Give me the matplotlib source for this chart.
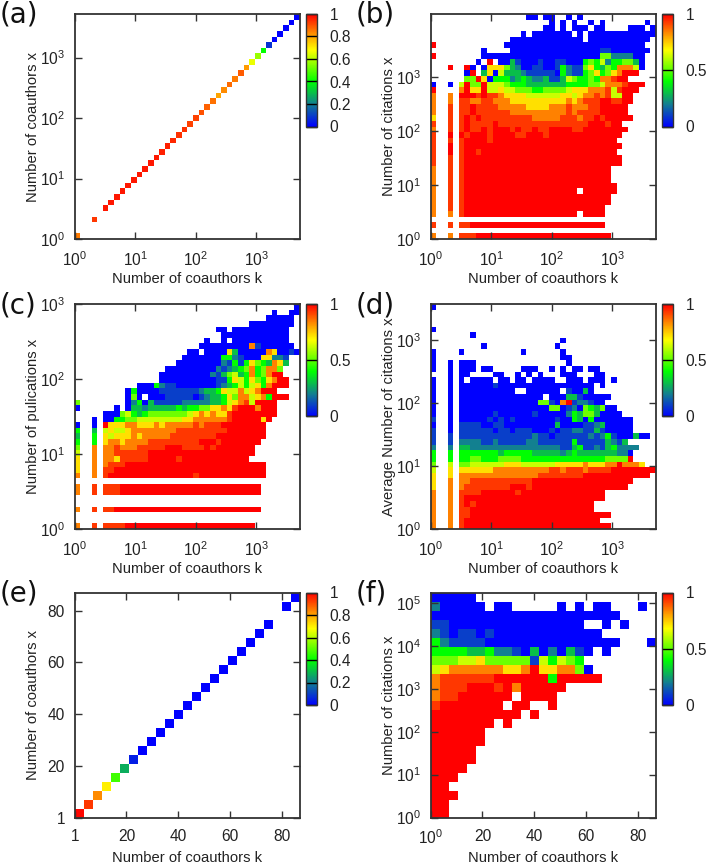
import numpy as np
import matplotlib
matplotlib.use("Agg")
import matplotlib.pyplot as plt
from matplotlib.colors import LinearSegmentedColormap
from matplotlib.ticker import FixedLocator, FixedFormatter, NullLocator

plt.rcParams['font.family'] = ['Liberation Sans', 'DejaVu Sans']
plt.rcParams['mathtext.default'] = 'regular'
INK = '#333333'

# Diagonal panels: None = empty cell
diag_a = [.85, None, None, .93, None, .97, .97, .97, .97, .97, .97, .97, .97, .97, .97, .96, .96, .95, .94, .94,
          .92, .92, .90, .88, .86, .80, .83, .87, .85, .89, .81, .66, .57, .40, .08, 0, 0, 0, 0, 0]
diag_e = [.99, .93, .83, .70, .47, .27, .05, 0, 0, 0, 0, 0, 0, 0, 0, 0, 0, 0, 0, 0, 0, 0, None, 0, 0]

# Shade of each cell code: 0-9, R = reddest
SHADES = {'0': 0, '1': .1, '2': .2, '3': .3, '4': .4, '5': .52, '6': .62, '7': .72, '8': .84, '9': .93, 'R': 1}

# Cell values, top row first: . = empty
grid_b = [
".................00.00..0.0",
".....................0.0.0..0.0.......0",
"....................00.0.000.00....000.0",
"................0.0000000.0.000000000000",
"..............0000000000000.00000000000",
"R............0000000000000000000000000",
".........0....0000000000000000110000000",
"R........00000000000000000000055222200",
"........0.R.00310001001100045462445530",
"...R..R0.07775320011001421157435488860",
"......0R.37063332111110421145745 78RRR",
"......55R70444234322311365445488 9RR",
"0..0.6R55R6665444333333344445568889RRR",
"R....8R77R667665554455556777888969RRR",
"8..8.RRR9R998777766666677678898966RR",
"8..8.9988998887777777777878999RR99RR",
"8..9.99R9999888887777888988899RRRRR",
"8..9.99R9999998888888888989999RRRRR",
"7..9.9R9R99999999988888999899R9RRRRR",
"9..9.9R9999R9999999999999999RRR9RR",
"8..9.9R99R9RRR9R99R99RRRR99RRRRRRRR",
"9..R.R9RRR9RRRR99RRR9RRRRRRRRRRRRR",
"9..9.9RRRR9RRRRRRRRRRRRRRRRRRRRRR",
"9..R.9RRRRRRRRRRRRRRRRRRRRRRRRRRRR",
"9..R.9RR9RRRRRRRRRRRRRRRRRRRRRRRR",
"9..9.9RRRRRRRRRRRRRRRRRRRRRRRRRRRR",
"9..9.9RRRRRRRRRRRRRRRRRRRRRRRRRRRR",
"8..9.9RRRRRRRRRRRRRRRRRRRRRRRRRR",
"8..9.9RRRRRRRRRRRRRRRRRRRRRRRRRR",
"8..9.9RRRRRRRRRRRRRRRRRRRRRRRRRR",
"8..9.9RRRRRRRRRRRRRRRRRRRRRRRRRRR",
"8..9.9RRRRRRRRRRRRRRRRRRRR.RRRRRR",
"8..9.9RRRRRRRRRRRRRRRRRRRRRRRRRR",
"8..9.9RRRRRRRRRRRRRRRRRRRRRRRRRR",
"8..9.9RRRRRRRRRRRRRRRRRRRRRRRRR",
"8..8.9RRRRRRRRRRRRRRRRRRRR.RRRR",
"",
"9..9.99RRRRRRRRRRRRRRRRRRRRRRRR",
"",
"8..8.999RRRRRRRRRRRRRRRRRRRRRRRR",
]

grid_c = [
".......................................0",
"...................................0..00",
"..................................00000",
"...............................00000000",
".........................00.0000000000",
"..........................000000000000",
".......................0..0.0000000000",
"......................00000000081000000",
"....................00.00007300000870010",
"...................000000044210007722 1",
"..................0000000021414754387 3",
"................0000000002123458458 85",
"...............000000000213563484 58RR",
"...............0000000000114764754 78RR",
"...........00042110000000123464674 8RRR",
".........040000111111123347668678RRR",
".........050.000111110123347588678 4RRR",
"5........02403111112222233467896 RRRR",
"0......0.033233333434455778 79RRR8RRR",
".....000564345555555678787 79RRRRRRRR",
"...0.004455666666667788888 89RRRRR7R",
"0..0.R77788777878888898999RRRRRRRR",
"4..3.676678888888899 9999999RRRRRRR",
"3..4.76777878888899 999999RRRRRRRRR",
"4..4.788788889999999 99RRR9RRRRRRR",
"5..8.88988899999RRR9999R9RRRRRRR",
"6..8.889999 99RRRRRRRRRRRRRRRRRRR",
"7..8.88799999RRRRR9RRRRRRRRRRRR",
"7..8.8999RRRRRRRRRRRRRRRRRRRRRRRRR",
"7..8.99RRRRRRRRRRRRRRRRRRRRRRRRRRR",
"8..8.9RRRRRRRRRRRRRRR9RRRRRRRRRRRR",
"",
"8..9.999RRRRRRRRRRRRRRRRRRRRRRRRR",
"8..9.999RRRRRRRRRRRRRRRRRRRRRRRRR",
"",
"",
"8..9.99RRRRRRRRRRRRRRRRRRRRRRRRRR",
"",
"",
"8..9.9999RRRRRRRRRRRRRRRRRRRRRRR",
]

grid_d = [
"0",
"",
"",
"",
"0",
".......0",
".......................0",
".........0............0",
"0....0..........0......0",
"0......................00",
"0..0.000................0",
"0..0.000.00.....000..0.0.00.00",
"...0.00....00..0.0.0...000...00",
"0..0.0.0000.00.00.0000..000.000.0",
"0..0.000000100000000000000000.0",
"0..0.0000000000..000000.10030",
"0..0.000000000000000.00033100000",
"0..0.000000000000005510 8R122100",
"0..0.0000000000000000550120543500",
"0..0.00000010000001000002435530000",
"1..0.0000010101000000010043040000000",
"0..0.1111001100000000030000112300000",
"1..0.1111110110111000101122113100000",
"1..1.1111111111111211011111121241000300",
"1..1.222211211111221111114111113213",
"2..2.3322222222222222221134112134 2222",
"4..4.4444444344444333332343333333220",
"4..4.445544455554444444444444445555R",
"5..6.55666666777666666777778777 88R8887",
"6..7.77777788888888889989998999 9RRRRRRRR",
"7..7.888888888888889999999 9RRRRRRRRRRRR",
"7..8.8899999999999RRRRRRRRRRRRRRRRRR",
"7..8.899999999RRR9RRRRRRRRRRRRRRRRR",
"8..8.9999RRRRRR9RRRRRRRRRRRRRRR",
"8..8.9RRRRRRRRRRRRRRRRRRRRRRRRR",
"8..8.9R9RRRRRRRRRRRRRRRRRRRRR",
"8..8.99RRRRRRRRRRRRRRRRRRRRRR",
"8..8.99RRRRRRRRRRRRRRRRRRRRRRRRR",
"8..8.9RRRRRRRRRRRRRRRRRRRRRRRR",
"8..8.9RRRRRRRRRRRRRRRRRRRRRRRRRR",
]

grid_f = [
"00000",
"200000.00.....0.0.00...0",
"000000000000000000000",
"11000000000000000..0.0",
"2101101000000000000",
"421111000000000000000...0",
"444433422103020310.0",
"55566755555164654",
"678888887 78R778850",
"8999999RRRRRR4RRRRR",
"8999RRR9R8RRRRR",
"899RRRRRR.RRRR",
"9RRRRRRR.RR..R",
"RRRRRRRRRR.R",
"RRRRRRR.R",
"RRRRRR",
"RRRRRR",
"RRRRR",
"RRRRR",
"RRRR",
"RRR",
"RR",
"RRR",
"RR",
"RR",
]

PANELS = ['(a)', '(b)', '(c)', '(d)', '(e)', '(f)']
X_LABELS = ['Number of coauthors k'] * 6
Y_LABELS = ['Number of coauthors x', 'Number of citations x', 'Number of pulications x',
            'Average Number of citations x', 'Number of coauthors x', 'Number of citations x']
CB_TICKS = [[0, .2, .4, .6, .8, 1], [0, .5, 1], [0, .5, 1], [0, .5, 1], [0, .2, .4, .6, .8, 1], [0, .5, 1]]
CB_LABELS = [['0', '0.2', '0.4', '0.6', '0.8', '1'], ['0', '0.5', '1'], ['0', '0.5', '1'], ['0', '0.5', '1'],
             ['0', '0.2', '0.4', '0.6', '0.8', '1'], ['0', '0.5', '1']]
LOG_MAX_K = 5270
Y_MAX = [5270, 14700, 1000, 3700, 87, 178000]
Y_DECADES = [3, 3, 3, 3, 0, 5]

cmap = LinearSegmentedColormap.from_list('pal', [
    (0, '#0000ff'), (.2, '#128090'), (.4, '#00ff00'), (.55, '#88ff00'), (.68, '#ffff00'), (.8, '#ffa500'), (1, '#ff0000')])
cmap.set_bad('white')


def grid(rows, n):
    a = np.full((n, n), np.nan)
    for j, r in enumerate(rows):
        for i, c in enumerate(r.replace(' ', '')[:n]):
            if c != '.':
                a[n - 1 - j, i] = SHADES[c]
    return a


def diagonal(vals):
    n = len(vals)
    a = np.full((n, n), np.nan)
    for i, v in enumerate(vals):
        if v is not None:
            a[i, i] = v
    return a


data = [diagonal(diag_a), grid(grid_b, 40), grid(grid_c, 40), grid(grid_d, 40), diagonal(diag_e), grid(grid_f, 25)]
W, H = 708, 864
fig = plt.figure(figsize=(W / 100, H / 100), dpi=100)
lefts = [74.7, 430.7]
tops = [14, 304, 592.5]
AW, AH = 225.3, 225
FS = 10.6
for p in range(6):
    col, row = p % 2, p // 2
    l, t = lefts[col], tops[row]
    ax = fig.add_axes([l / W, 1 - (t + AH) / H, AW / W, AH / H])
    d = data[p]
    n = d.shape[0]
    linx = p in (4, 5)
    liny = p == 4
    xe = np.linspace(0, 87, n + 1) if linx else np.logspace(0, np.log10(LOG_MAX_K), n + 1)
    ye = np.linspace(0, 87, n + 1) if liny else np.logspace(0, np.log10(Y_MAX[p]), n + 1)
    mesh = ax.pcolormesh(xe, ye, np.ma.masked_invalid(d), cmap=cmap, vmin=0, vmax=1, linewidth=0, rasterized=True)
    if linx:
        ax.set_xlim(0, 87)
        ax.xaxis.set_major_locator(FixedLocator([0, 20, 40, 60, 80]))
        ax.xaxis.set_major_formatter(FixedFormatter(['1' if p == 4 else r'$10^{0}$', '20', '40', '60', '80']))
    else:
        ax.set_xscale('log')
        ax.set_xlim(1, LOG_MAX_K)
        ax.xaxis.set_major_locator(FixedLocator([1, 10, 100, 1000]))
        ax.xaxis.set_major_formatter(FixedFormatter([r'$10^{0}$', r'$10^{1}$', r'$10^{2}$', r'$10^{3}$']))
    if liny:
        ax.set_ylim(0, 87)
        ax.yaxis.set_major_locator(FixedLocator([0, 20, 40, 60, 80]))
        ax.yaxis.set_major_formatter(FixedFormatter(['1', '20', '40', '60', '80']))
    else:
        ax.set_yscale('log')
        ax.set_ylim(1, Y_MAX[p])
        dec = Y_DECADES[p]
        ax.yaxis.set_major_locator(FixedLocator([10 ** e for e in range(dec + 1)]))
        ax.yaxis.set_major_formatter(FixedFormatter([rf'$10^{{{e}}}$' for e in range(dec + 1)]))
    ax.xaxis.set_minor_locator(NullLocator())
    ax.yaxis.set_minor_locator(NullLocator())
    ax.tick_params(which='major', direction='in', top=True, right=True, length=5, width=1, color=INK,
                   labelsize=FS + .6, labelcolor='#222222')
    ax.tick_params(axis='x', pad=8)
    ax.tick_params(axis='y', pad=7)
    for s in ax.spines.values():
        s.set_linewidth(1.3)
        s.set_color(INK)
    ax.set_xlabel(X_LABELS[p], fontsize=FS, color='#222222')
    ax.set_ylabel(Y_LABELS[p], fontsize=FS, color='#222222')
    ax.xaxis.set_label_coords(.5, -(33 / AH))
    ax.yaxis.set_label_coords(-(34.5 / AW), .5)

    cbl = l + AW + 6
    cax = fig.add_axes([cbl / W, 1 - (t + 112.5) / H, 11 / W, 112.5 / H])
    cb = fig.colorbar(mesh, cax=cax)
    cb.set_ticks(CB_TICKS[p])
    cb.set_ticklabels(CB_LABELS[p])
    cax.tick_params(direction='in', length=8, width=1, color='black', labelsize=FS + .6, labelcolor='#222222', pad=9)
    cb.outline.set_linewidth(1.0)
    cb.outline.set_edgecolor(INK)
    cb.minorticks_off()

    fig.text((0 if col == 0 else 356) / W, 1 - (t + 9) / H, PANELS[p], fontsize=20, family='DejaVu Sans',
             color='#111111', ha='left', va='baseline')

fig.savefig('out.png', dpi=100)
